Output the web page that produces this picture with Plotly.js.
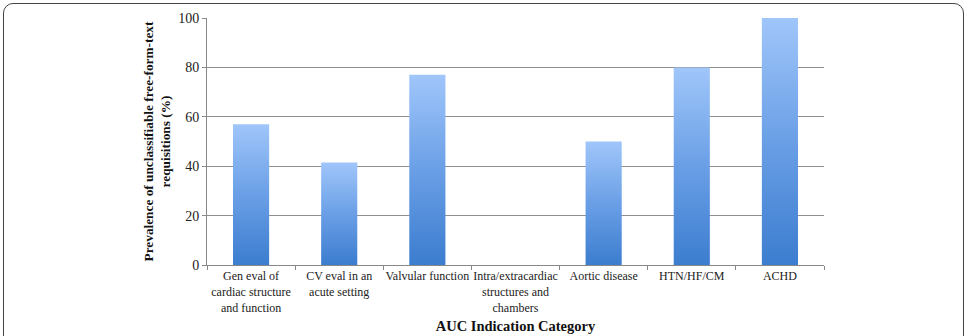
<!DOCTYPE html>
<html><head><meta charset="utf-8">
<script src="https://cdn.plot.ly/plotly-3.0.1.min.js"></script>
<style>
html,body{margin:0;padding:0;background:#fff;overflow:hidden;}
#frame{position:absolute;left:3px;top:3px;width:961px;height:360px;border:1.5px solid #444;border-radius:10px;box-sizing:border-box;}
#chart{position:absolute;left:0;top:0;width:969px;height:336px;}
</style></head>
<body>
<div id="frame"></div>
<div id="chart"></div>
<script>
const categories = [
  "Gen eval of<br>cardiac structure<br>and function",
  "CV eval in an<br>acute setting",
  "Valvular function",
  "Intra/extracardiac<br>structures and<br>chambers",
  "Aortic disease",
  "HTN/HF/CM",
  "ACHD"
];
const prevalence = [57, 41.5, 77, 0, 50, 80, 100];
const yTicks = [0, 20, 40, 60, 80, 100];

const trace = {
  type: 'bar',
  x: categories,
  y: prevalence,
  width: 0.41,
  marker: {color: '#6a9fe4', line: {width: 0}},
  hoverinfo: 'skip'
};
const layout = {
  width: 969, height: 336,
  margin: {l: 207, r: 145, t: 18, b: 71},
  paper_bgcolor: 'rgba(0,0,0,0)',
  plot_bgcolor: 'rgba(0,0,0,0)',
  showlegend: false,
  font: {family: "'Liberation Serif', serif", color: '#222', size: 12},
  xaxis: {
    tickson: 'boundaries', ticks: 'outside', ticklen: 4, tickcolor: '#888',
    showline: true, linecolor: '#888', linewidth: 1,
    showgrid: false, tickangle: 0,
    tickfont: {family: "'Liberation Serif', serif", size: 12, color: '#222'},
    title: {text: '<b>AUC Indication Category</b>', font: {family: "'Liberation Serif', serif", size: 14.5, color: '#111'}, standoff: 7},
    automargin: false
  },
  yaxis: {
    range: [0, 100], tickvals: yTicks, ticktext: yTicks.map(String),
    ticks: 'outside', ticklen: 4, tickcolor: '#888',
    showline: true, linecolor: '#888', linewidth: 1,
    showgrid: true, gridcolor: '#8f8f8f', gridwidth: 1,
    zeroline: false,
    tickfont: {family: "'Liberation Serif', serif", size: 14, color: '#222'},
    title: {text: '<b>Prevalence of unclassifiable free-form-text<br>requisitions (%)</b>', font: {family: "'Liberation Serif', serif", size: 13.3, color: '#111'}, standoff: 4},
    automargin: false
  }
};
Plotly.newPlot('chart', [trace], layout, {displayModeBar: false, staticPlot: true}).then(function(gd){
  const svg = gd.querySelector('svg.main-svg');
  const ns = 'http://www.w3.org/2000/svg';
  let defs = svg.querySelector('defs');
  if (!defs) { defs = document.createElementNS(ns, 'defs'); svg.insertBefore(defs, svg.firstChild); }
  const grad = document.createElementNS(ns, 'linearGradient');
  grad.setAttribute('id', 'barGrad');
  grad.setAttribute('x1', '0'); grad.setAttribute('y1', '0');
  grad.setAttribute('x2', '0'); grad.setAttribute('y2', '1');
  [['0', '#a0c6fa'], ['0.5', '#6a9fe6'], ['1', '#3c7dcf']].forEach(function(s){
    const st = document.createElementNS(ns, 'stop');
    st.setAttribute('offset', s[0]); st.setAttribute('stop-color', s[1]);
    grad.appendChild(st);
  });
  defs.appendChild(grad);
  gd.querySelectorAll('.bars .point path').forEach(function(p){
    p.style.fill = 'url(#barGrad)';
  });
});
</script>
</body></html>
